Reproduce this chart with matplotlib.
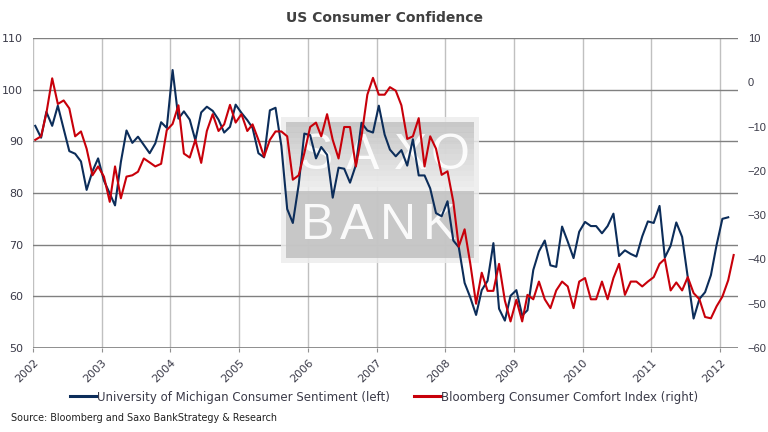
import numpy as np
import pandas as pd
import matplotlib
matplotlib.use("Agg")
import matplotlib.pyplot as plt
from matplotlib.patches import Rectangle

# University of Michigan Consumer Sentiment (left axis), Jan 2002 - Feb 2012
michigan = [
    93.0, 90.7, 95.7, 93.0, 96.9, 92.4, 88.1, 87.6, 86.1, 80.6, 84.2, 86.7,
    82.4, 79.9, 77.6, 86.0, 92.1, 89.7, 90.9, 89.3, 87.7, 89.6, 93.7, 92.6,
    103.8, 94.4, 95.8, 94.2, 90.2, 95.6, 96.7, 95.9, 94.2, 91.7, 92.8, 97.1,
    95.5, 94.1, 92.6, 87.7, 86.9, 96.0, 96.5, 89.1, 76.9, 74.2, 81.6, 91.5,
    91.2, 86.7, 88.9, 87.4, 79.1, 84.9, 84.7, 82.0, 85.4, 93.6, 92.1, 91.7,
    96.9, 91.3, 88.4, 87.1, 88.3, 85.3, 90.4, 83.4, 83.4, 80.9, 76.1, 75.5,
    78.4, 70.8, 69.5, 62.6, 59.8, 56.4, 61.2, 63.0, 70.3, 57.6, 55.3, 60.1,
    61.2, 56.3, 57.3, 65.1, 68.7, 70.8, 66.0, 65.7, 73.5, 70.6, 67.4, 72.5,
    74.4, 73.6, 73.6, 72.2, 73.6, 76.0, 67.8, 68.9, 68.2, 67.7, 71.6, 74.5,
    74.2, 77.5, 67.5, 69.8, 74.3, 71.5, 63.7, 55.7, 59.5, 60.8, 64.1, 69.9,
    75.0, 75.3,
]

# Bloomberg Consumer Comfort Index (right axis), Jan 2002 - Mar 2012
comfort = [
    -13.0, -12.2, -7.0, 0.9, -4.9, -4.1, -5.9, -12.2, -11.1, -15.0, -21.0, -19.0,
    -21.3, -27.0, -19.0, -26.2, -21.3, -21.0, -20.2, -17.2, -18.1, -19.0, -18.4, -10.8,
    -9.4, -5.2, -16.1, -17.0, -13.0, -18.2, -11.0, -7.2, -11.0, -9.5, -5.1, -9.1,
    -7.2, -11.0, -9.5, -13.0, -16.8, -13.0, -11.1, -11.1, -12.2, -22.0, -21.0, -16.0,
    -10.1, -9.1, -12.2, -7.2, -13.0, -17.2, -10.1, -10.1, -19.0, -12.2, -2.8, 1.0,
    -2.8, -2.8, -1.1, -1.9, -5.2, -12.8, -12.2, -8.1, -19.0, -12.2, -15.0, -20.9,
    -20.1, -27.0, -37.1, -33.2, -40.9, -50.0, -43.0, -47.1, -47.1, -41.0, -49.3, -54.0,
    -49.1, -54.0, -48.0, -49.0, -45.0, -49.0, -51.0, -47.0, -45.0, -46.1, -51.0, -45.0,
    -44.2, -49.0, -49.0, -45.0, -49.0, -44.2, -41.0, -48.0, -45.0, -45.0, -46.1, -45.0,
    -44.0, -41.0, -39.9, -47.0, -45.2, -47.0, -44.0, -47.6, -49.0, -53.0, -53.3, -50.6,
    -48.4, -44.7, -39.0,
]

years = list(range(2002, 2013))
left_ticks = [50, 60, 70, 80, 90, 100, 110]
right_ticks = [-60, -50, -40, -30, -20, -10, 0, 10]

blue = "#0c2d5a"
red = "#c8000a"
txt = "#3a3a48"

# monthly points, placed a little after the start of each month
dates_m = pd.date_range("2002-01-01", periods=len(michigan), freq="MS") + pd.Timedelta(days=12)
dates_c = pd.date_range("2002-01-01", periods=len(comfort), freq="MS") + pd.Timedelta(days=12)

fig = plt.figure(figsize=(7.68, 4.32), dpi=100)
ax = fig.add_axes([33 / 768, 1 - 348 / 432, 705 / 768, 310 / 432])
ax2 = ax.twinx()

# watermark box (semi transparent, under the lines)
wm = dict(transform=ax.transAxes, edgecolor="none", zorder=1)
ax.add_patch(Rectangle((0.352, 0.274), 0.281, 0.471, facecolor="#ededed", alpha=0.85, **wm))
ax.add_patch(Rectangle((0.359, 0.29), 0.267, 0.215, facecolor="#c0c0c0", alpha=0.85, **wm))
# upper half: grey fading lighter toward the middle
n_strips = 12
for i in range(n_strips):
    g = 0.76 + 0.16 * i / (n_strips - 1)
    h = 0.209 / n_strips
    ax.add_patch(Rectangle((0.359, 0.729 - (i + 1) * h), 0.267, h + 0.001,
                           facecolor=(g, g, g), alpha=0.85, **wm))
for ch, xp in zip("SAXO", [0.402, 0.468, 0.536, 0.592]):
    ax.text(xp, 0.62, ch, color="white", alpha=0.92, fontsize=36, ha="center", va="center",
            family="Liberation Sans", transform=ax.transAxes, zorder=2)
for ch, xp in zip("BANK", [0.404, 0.459, 0.517, 0.577]):
    ax.text(xp, 0.395, ch, color="white", alpha=0.92, fontsize=36, ha="center", va="center",
            family="Liberation Sans", transform=ax.transAxes, zorder=2)

ax.plot(dates_m, michigan, color=blue, lw=1.5, zorder=3)
ax2.plot(dates_c, comfort, color=red, lw=1.5, zorder=3)

ax.set_xlim(pd.Timestamp("2002-01-01"), pd.Timestamp("2012-04-05"))
ax.set_ylim(50, 110)
ax2.set_ylim(-60, 10)
ax.set_yticks(left_ticks)
ax2.set_yticks(right_ticks)

year_dates = [pd.Timestamp(f"{y}-01-01") for y in years]
ax.set_xticks(year_dates)
ax.set_xticklabels([str(y) for y in years], rotation=45, ha="right", rotation_mode="anchor",
                   fontsize=8, color=txt)
ax.tick_params(axis="x", length=3, color="#909090", pad=4)
ax.tick_params(axis="y", length=0, pad=7, labelsize=8, labelcolor=txt)
ax2.tick_params(axis="y", length=0, pad=7, labelsize=8, labelcolor=txt)
for lab in ax2.get_yticklabels():
    lab.set_family("Liberation Sans")

ax.grid(axis="y", color="#808080", lw=1.0, zorder=0)
ax.grid(axis="x", color="#c0c0c0", lw=1.0, zorder=0)
ax.set_axisbelow(True)

for a in (ax, ax2):
    for side in ("top", "right", "left", "bottom"):
        a.spines[side].set_visible(False)
ax.axhline(50, color="#808080", lw=1.2, zorder=2)

fig.text(0.5, 1 - 18 / 432, "US Consumer Confidence", ha="center", va="center",
         fontsize=10, fontweight="bold", color="#404040")

h1, = ax.plot([], [], color=blue, lw=2.2)
h2, = ax.plot([], [], color=red, lw=2.2)
fig.legend([h1, h2], ["University of Michigan Consumer Sentiment (left)",
                      "Bloomberg Consumer Comfort Index (right)"],
           loc="center", bbox_to_anchor=(0.5, 1 - 397 / 432), ncol=2, frameon=False,
           handlelength=2.3, handletextpad=0.0, columnspacing=2.0,
           prop={"size": 8.5}, labelcolor=txt)

fig.text(11 / 768, 1 - 418 / 432, "Source: Bloomberg and Saxo BankStrategy & Research",
         ha="left", va="center", fontsize=6.9, color="#202020")

fig.savefig("out.png", dpi=100)
